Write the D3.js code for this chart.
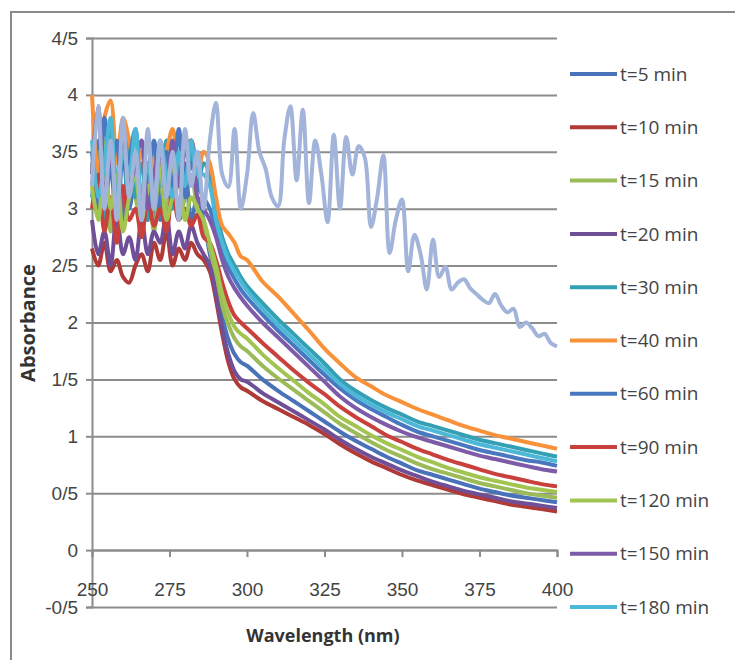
<!DOCTYPE html>
<html>
<head>
<meta charset="utf-8">
<script src="https://cdn.jsdelivr.net/npm/d3@7"></script>
<style>
  body { margin: 0; background: #fff; }
  svg { display: block; font-family: "Open Sans", "Noto Sans", sans-serif; }
</style>
</head>
<body>
<div id="chart"></div>
<script>
// wavelengths shared by the 11 time series
const wavelengths = [250,252,254,256,258,260,262,264,266,268,270,272,274,276,278,280,282,284,286,288,290,292,294,296,298,
  300,305,310,315,320,325,330,335,340,345,350,355,360,365,370,375,380,385,390,395,400];

const seriesNames = ["t=5 min","t=10 min","t=15 min","t=20 min","t=30 min","t=40 min",
  "t=60 min","t=90 min","t=120 min","t=150 min","t=180 min"];
const seriesColors = ["#4a72b8","#b03a37","#9bbb59","#6f4f98","#33a0b4","#f7923a",
  "#4a78c0","#c8413d","#a2c552","#7e5ba8","#4cb8d8"];

const t5 = [3.2,3.6,2.9,3.4,2.8,3.5,3.0,3.3,2.8,3.4,2.9,3.2,2.8,3.3,3.0,3.4,2.9,3.1,2.9,2.6,2.35,2.05,1.85,1.72,1.65,
  1.62,1.5,1.4,1.31,1.22,1.13,1.04,0.96,0.89,0.82,0.76,0.7,0.66,0.62,0.58,0.54,0.51,0.48,0.46,0.44,0.42];
const t10 = [2.65,2.5,2.7,2.45,2.55,2.4,2.35,2.5,2.6,2.45,2.7,2.55,2.8,2.5,2.65,2.55,2.7,2.6,2.55,2.45,2.2,1.9,1.65,1.5,1.43,
  1.4,1.31,1.24,1.17,1.1,1.02,0.93,0.85,0.78,0.72,0.66,0.61,0.57,0.53,0.49,0.46,0.43,0.4,0.38,0.36,0.34];
const t15 = [3.4,3.0,3.6,2.8,3.3,2.9,3.5,3.1,2.9,3.3,2.8,3.2,3.0,3.4,2.9,3.1,3.3,3.0,2.85,2.65,2.4,2.15,1.98,1.86,1.79,
  1.75,1.62,1.51,1.41,1.31,1.21,1.11,1.03,0.95,0.88,0.82,0.76,0.71,0.67,0.63,0.59,0.56,0.53,0.5,0.48,0.46];
const t20 = [2.9,2.6,2.8,2.5,2.95,2.6,2.75,2.55,2.9,2.6,2.8,2.7,2.95,2.6,2.8,2.65,2.85,2.7,2.6,2.5,2.25,1.95,1.72,1.57,1.5,
  1.48,1.38,1.3,1.22,1.14,1.06,0.97,0.89,0.82,0.76,0.7,0.65,0.6,0.56,0.52,0.49,0.46,0.43,0.41,0.39,0.37];
const t30 = [3.1,3.5,2.9,3.7,3.2,3.0,3.6,3.1,3.4,2.9,3.5,3.2,3.6,3.0,3.4,3.1,3.5,3.2,3.4,3.3,3.0,2.75,2.6,2.5,2.4,
  2.32,2.17,2.03,1.9,1.77,1.64,1.5,1.4,1.32,1.25,1.19,1.13,1.09,1.05,1.01,0.97,0.94,0.91,0.88,0.85,0.82];
const t40 = [4.0,3.3,3.8,3.95,3.4,3.8,3.6,3.3,3.5,3.2,3.45,3.3,3.5,3.7,3.4,3.55,3.6,3.3,3.5,3.4,3.1,2.85,2.78,2.7,2.58,
  2.55,2.36,2.23,2.08,1.93,1.77,1.64,1.52,1.44,1.36,1.3,1.24,1.19,1.14,1.09,1.05,1.01,0.98,0.95,0.92,0.89];
const t60 = [3.5,3.0,3.8,3.3,3.6,2.9,3.4,3.7,3.0,3.3,3.6,2.9,3.5,3.2,3.7,3.1,3.4,3.2,3.1,3.0,2.8,2.6,2.48,2.38,2.29,
  2.22,2.07,1.93,1.8,1.67,1.54,1.42,1.32,1.24,1.17,1.1,1.04,1.0,0.96,0.92,0.88,0.85,0.82,0.79,0.77,0.74];
const t90 = [3.0,3.3,2.8,3.1,2.7,3.2,2.9,3.0,2.75,3.1,2.85,3.0,2.8,3.15,2.9,3.0,2.85,2.95,2.75,2.7,2.55,2.35,2.18,2.06,2.0,
  1.95,1.82,1.7,1.58,1.47,1.37,1.26,1.17,1.09,1.01,0.95,0.89,0.84,0.79,0.75,0.71,0.67,0.64,0.61,0.58,0.56];
const t120 = [3.2,2.9,3.4,3.0,3.3,2.8,3.1,3.3,2.9,3.2,3.0,3.4,2.9,3.1,3.2,2.9,3.1,3.0,2.9,2.7,2.5,2.25,2.08,1.96,1.9,
  1.86,1.72,1.6,1.49,1.38,1.28,1.17,1.09,1.01,0.94,0.88,0.82,0.77,0.72,0.68,0.64,0.61,0.58,0.55,0.53,0.51];
const t150 = [3.3,3.9,3.1,3.5,3.0,3.7,3.2,3.4,3.6,3.0,3.3,3.5,3.1,3.6,3.2,3.5,3.6,3.1,3.0,2.9,2.75,2.55,2.4,2.3,2.22,
  2.15,2.0,1.87,1.74,1.61,1.48,1.35,1.25,1.17,1.1,1.04,0.99,0.95,0.91,0.87,0.83,0.8,0.77,0.74,0.71,0.69];
const t180 = [3.6,3.1,3.4,3.8,3.0,3.5,3.3,3.7,3.1,3.4,3.0,3.6,3.3,3.1,3.5,3.2,3.6,3.3,3.3,3.2,2.9,2.7,2.55,2.45,2.36,
  2.28,2.12,1.98,1.85,1.72,1.59,1.46,1.36,1.28,1.21,1.15,1.09,1.05,1.01,0.97,0.93,0.9,0.87,0.84,0.81,0.78];

// the extra pale series (not in the visible legend)
const paleWavelengths = d3.range(250, 401, 2);
const paleValues = [3.2,3.9,3.0,3.6,2.9,3.8,3.1,3.5,2.9,3.7,3.0,3.6,3.1,3.5,2.9,3.7,3.2,3.5,3.0,3.6,3.93,3.3,3.19,3.7,3.0,
  3.3,3.84,3.5,3.35,3.1,3.02,3.6,3.9,3.25,3.87,3.05,3.6,3.3,2.88,3.65,3.0,3.63,3.3,3.55,3.45,2.84,3.1,3.47,2.61,2.9,
  3.08,2.45,2.77,2.6,2.29,2.73,2.4,2.49,2.29,2.35,2.38,2.3,2.25,2.2,2.17,2.25,2.15,2.09,2.12,1.96,2.0,1.95,1.88,1.9,1.82,1.79];
const paleColor = "#a3b4da";

const xTicks = [250,275,300,325,350,375,400];
const yTicks = [-0.5,0,0.5,1,1.5,2,2.5,3,3.5,4,4.5];
const yTickLabels = ["-0/5","0","0/5","1","1/5","2","2/5","3","3/5","4","4/5"];

const allSeries = [t5,t10,t15,t20,t30,t40,t60,t90,t120,t150,t180];

const width = 735, height = 660;
const svg = d3.select("#chart").append("svg").attr("width", width).attr("height", height);

// outer frame
svg.append("rect")
  .attr("x", 11).attr("y", 12).attr("width", 740).attr("height", 660)
  .attr("fill", "none").attr("stroke", "#8a8a8a").attr("stroke-width", 2);

const x = d3.scaleLinear().domain([250, 400]).range([92, 557]);
const y = d3.scaleLinear().domain([-0.5, 4.5]).range([607, 38]);

// gridlines
svg.append("g")
  .attr("transform", "translate(92,0)")
  .call(d3.axisLeft(y).tickValues(yTicks).tickSize(-(557 - 92)).tickFormat(""))
  .call(g => g.select(".domain").remove())
  .call(g => g.selectAll("line").attr("stroke", "#8c8c8c").attr("stroke-width", 2));

// y axis
const yAxis = svg.append("g")
  .attr("transform", "translate(92,0)")
  .call(d3.axisLeft(y).tickValues(yTicks).tickSize(6).tickPadding(8)
    .tickFormat((d, i) => yTickLabels[i]));
yAxis.select(".domain").attr("stroke", "#8c8c8c").attr("stroke-width", 2);
yAxis.selectAll("line").attr("stroke", "#8c8c8c").attr("stroke-width", 2);
yAxis.selectAll("text").attr("font-size", 19).attr("fill", "#444");

// x axis at y = 0
const xAxis = svg.append("g")
  .attr("transform", `translate(0,${y(0)})`)
  .call(d3.axisBottom(x).tickValues(xTicks).tickSize(7).tickPadding(25).tickFormat(d3.format("d")));
xAxis.select(".domain").attr("stroke", "#8c8c8c").attr("stroke-width", 2);
xAxis.selectAll("line").attr("stroke", "#8c8c8c").attr("stroke-width", 2);
xAxis.selectAll("text").attr("font-size", 19).attr("fill", "#444");

// lines
const line = d3.line()
  .x(d => x(d[0]))
  .y(d => y(d[1]))
  .curve(d3.curveCatmullRom.alpha(0.5));

svg.append("g").selectAll("path")
  .data(allSeries)
  .join("path")
  .attr("d", vals => line(wavelengths.map((w, i) => [w, vals[i]])))
  .attr("fill", "none")
  .attr("stroke", (d, i) => seriesColors[i])
  .attr("stroke-width", 4)
  .attr("stroke-linejoin", "round");

svg.append("path")
  .attr("d", line(paleWavelengths.map((w, i) => [w, paleValues[i]])))
  .attr("fill", "none")
  .attr("stroke", paleColor)
  .attr("stroke-width", 4)
  .attr("stroke-linejoin", "round");

// legend
const legend = svg.append("g").selectAll("g")
  .data(seriesNames)
  .join("g")
  .attr("transform", (d, i) => `translate(570,${74 + i * 53.3})`);
legend.append("line")
  .attr("x1", 0).attr("x2", 47)
  .attr("stroke", (d, i) => seriesColors[i])
  .attr("stroke-width", 4);
legend.append("text")
  .attr("x", 50).attr("dy", "0.35em")
  .attr("font-size", 19).attr("fill", "#444")
  .text(d => d);

// axis titles
svg.append("text")
  .attr("transform", "translate(35,323) rotate(-90)")
  .attr("text-anchor", "middle")
  .attr("font-size", 20).attr("font-weight", "bold").attr("fill", "#333")
  .text("Absorbance");

svg.append("text")
  .attr("x", 323).attr("y", 642)
  .attr("text-anchor", "middle")
  .attr("font-size", 18).attr("font-weight", "bold").attr("fill", "#333")
  .text("Wavelength (nm)");
</script>
</body>
</html>
